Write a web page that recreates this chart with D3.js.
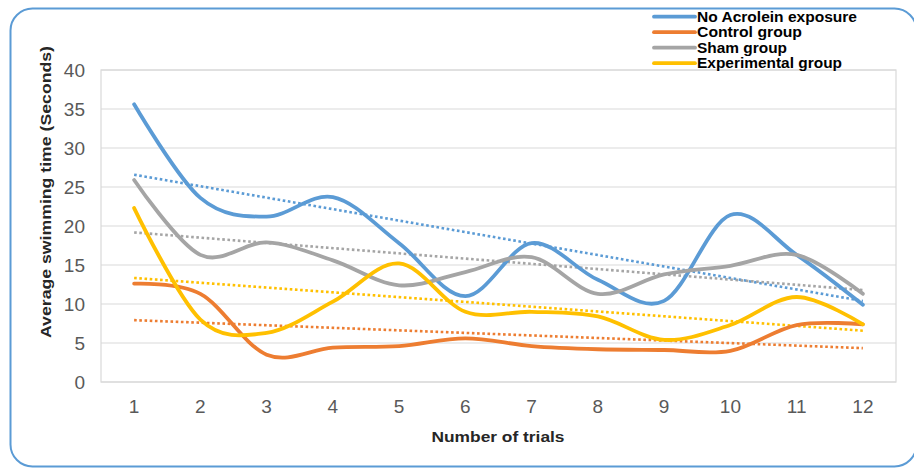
<!DOCTYPE html>
<html><head><meta charset="utf-8">
<script src="https://cdn.jsdelivr.net/npm/d3@7"></script>
<style>html,body{margin:0;padding:0;background:#fff;}svg{display:block;}</style>
</head><body>
<svg id="chart" width="914" height="468"></svg>
<script>
const trials = [1,2,3,4,5,6,7,8,9,10,11,12];
const yTicks = [0,5,10,15,20,25,30,35,40];
const seriesNames = ["No Acrolein exposure","Control group","Sham group","Experimental group"];
const seriesColors = ["#5B9BD5","#ED7D31","#A5A5A5","#FFC000"];
const noAcrolein   = [35.6,23.6,21.2,23.7,17.8,11.0,17.8,13.1,10.4,21.4,16.3,9.9];
const controlGroup = [12.6,11.3,3.5,4.4,4.6,5.6,4.6,4.2,4.1,4.0,7.3,7.4];
const shamGroup    = [25.9,16.3,17.9,15.6,12.4,14.1,16.0,11.3,13.8,14.9,16.3,11.3];
const experimental = [22.3,8.0,6.3,10.3,15.2,9.0,9.0,8.4,5.4,7.3,10.9,7.4];
const allSeries = [noAcrolein, controlGroup, shamGroup, experimental];

const svg = d3.select("#chart");
const plot = {left:101, right:896, top:70, bottom:382};
const FONT = "'Liberation Sans', Arial, sans-serif";

// outer rounded border
svg.append("rect").attr("x",10.5).attr("y",8.5).attr("width",906).attr("height",458)
  .attr("rx",22).attr("fill","#fff").attr("stroke","#5B9BD5").attr("stroke-width",2);

const x = d3.scaleBand().domain(trials).range([plot.left, plot.right]);
const xc = d => x(d) + x.bandwidth()/2;
const y = d3.scaleLinear().domain([0,40]).range([plot.bottom, plot.top]);

// gridlines
svg.append("g").selectAll("line").data(yTicks).join("line")
  .attr("x1",plot.left).attr("x2",plot.right)
  .attr("y1",d=>y(d)).attr("y2",d=>y(d))
  .attr("stroke","#d9d9d9").attr("stroke-width",1.2);
svg.append("rect").attr("x",plot.left).attr("y",plot.top)
  .attr("width",plot.right-plot.left).attr("height",plot.bottom-plot.top)
  .attr("fill","none").attr("stroke","#d9d9d9").attr("stroke-width",1.2);

// y axis labels
const yAxis = d3.axisLeft(y).tickValues(yTicks).tickSize(0).tickPadding(16);
const gy = svg.append("g").attr("transform",`translate(${plot.left},0)`).call(yAxis);
gy.select(".domain").remove();
gy.selectAll("text").attr("font-family",FONT).attr("font-size",19).attr("fill","#595959");

// x axis labels
const xAxis = d3.axisBottom(x).tickSize(0).tickPadding(18);
const gx = svg.append("g").attr("transform",`translate(0,${plot.bottom})`).call(xAxis);
gx.select(".domain").remove();
gx.selectAll("text").attr("font-family",FONT).attr("font-size",19).attr("fill","#595959");

// axis titles
svg.append("text").attr("x",498).attr("y",442).attr("text-anchor","middle")
  .attr("font-family",FONT).attr("font-weight","bold")
  .attr("font-size",15.5).attr("textLength",133).attr("lengthAdjust","spacingAndGlyphs")
  .attr("fill","#262626").text("Number of trials");
svg.append("text").attr("transform","translate(51,192) rotate(-90)").attr("text-anchor","middle")
  .attr("font-family",FONT).attr("font-weight","bold")
  .attr("font-size",15).attr("textLength",292).attr("lengthAdjust","spacingAndGlyphs")
  .attr("fill","#262626").text("Average swimming time (Seconds)");

// trend lines (least squares)
function trend(vals){
  const n = vals.length;
  const mx = d3.mean(trials), my = d3.mean(vals);
  let sxy=0, sxx=0;
  trials.forEach((t,i)=>{ sxy+=(t-mx)*(vals[i]-my); sxx+=(t-mx)*(t-mx); });
  const b = sxy/sxx, a = my - b*mx;
  return [trials[0], trials[n-1]].map(t=>[t, a+b*t]);
}
const tg = svg.append("g");
allSeries.forEach((vals,i)=>{
  const pts = trend(vals);
  tg.append("line").attr("x1",xc(pts[0][0])).attr("y1",y(pts[0][1]))
    .attr("x2",xc(pts[1][0])).attr("y2",y(pts[1][1]))
    .attr("stroke",seriesColors[i]).attr("stroke-width",2.6)
    .attr("stroke-dasharray","2.6,2.6");
});

// smooth lines
const line = d3.line().x((d,i)=>xc(trials[i])).y(d=>y(d)).curve(d3.curveCatmullRom.alpha(0));
const lg = svg.append("g");
allSeries.forEach((vals,i)=>{
  lg.append("path").attr("d",line(vals)).attr("fill","none")
    .attr("stroke",seriesColors[i]).attr("stroke-width",3.8)
    .attr("stroke-linecap","round").attr("stroke-linejoin","round");
});

// legend
const legendWidths = [160,105,90,145];
const leg = svg.append("g");
seriesNames.forEach((name,i)=>{
  const cy = 16.7 + i*15.5;
  leg.append("line").attr("x1",654).attr("x2",695).attr("y1",cy).attr("y2",cy)
    .attr("stroke",seriesColors[i]).attr("stroke-width",3.8).attr("stroke-linecap","round");
  leg.append("text").attr("x",697).attr("y",cy+5)
    .attr("font-family",FONT).attr("font-weight","bold")
    .attr("font-size",14).attr("textLength",legendWidths[i]).attr("lengthAdjust","spacingAndGlyphs")
    .attr("fill","#000").text(name);
});
</script>
</body></html>
